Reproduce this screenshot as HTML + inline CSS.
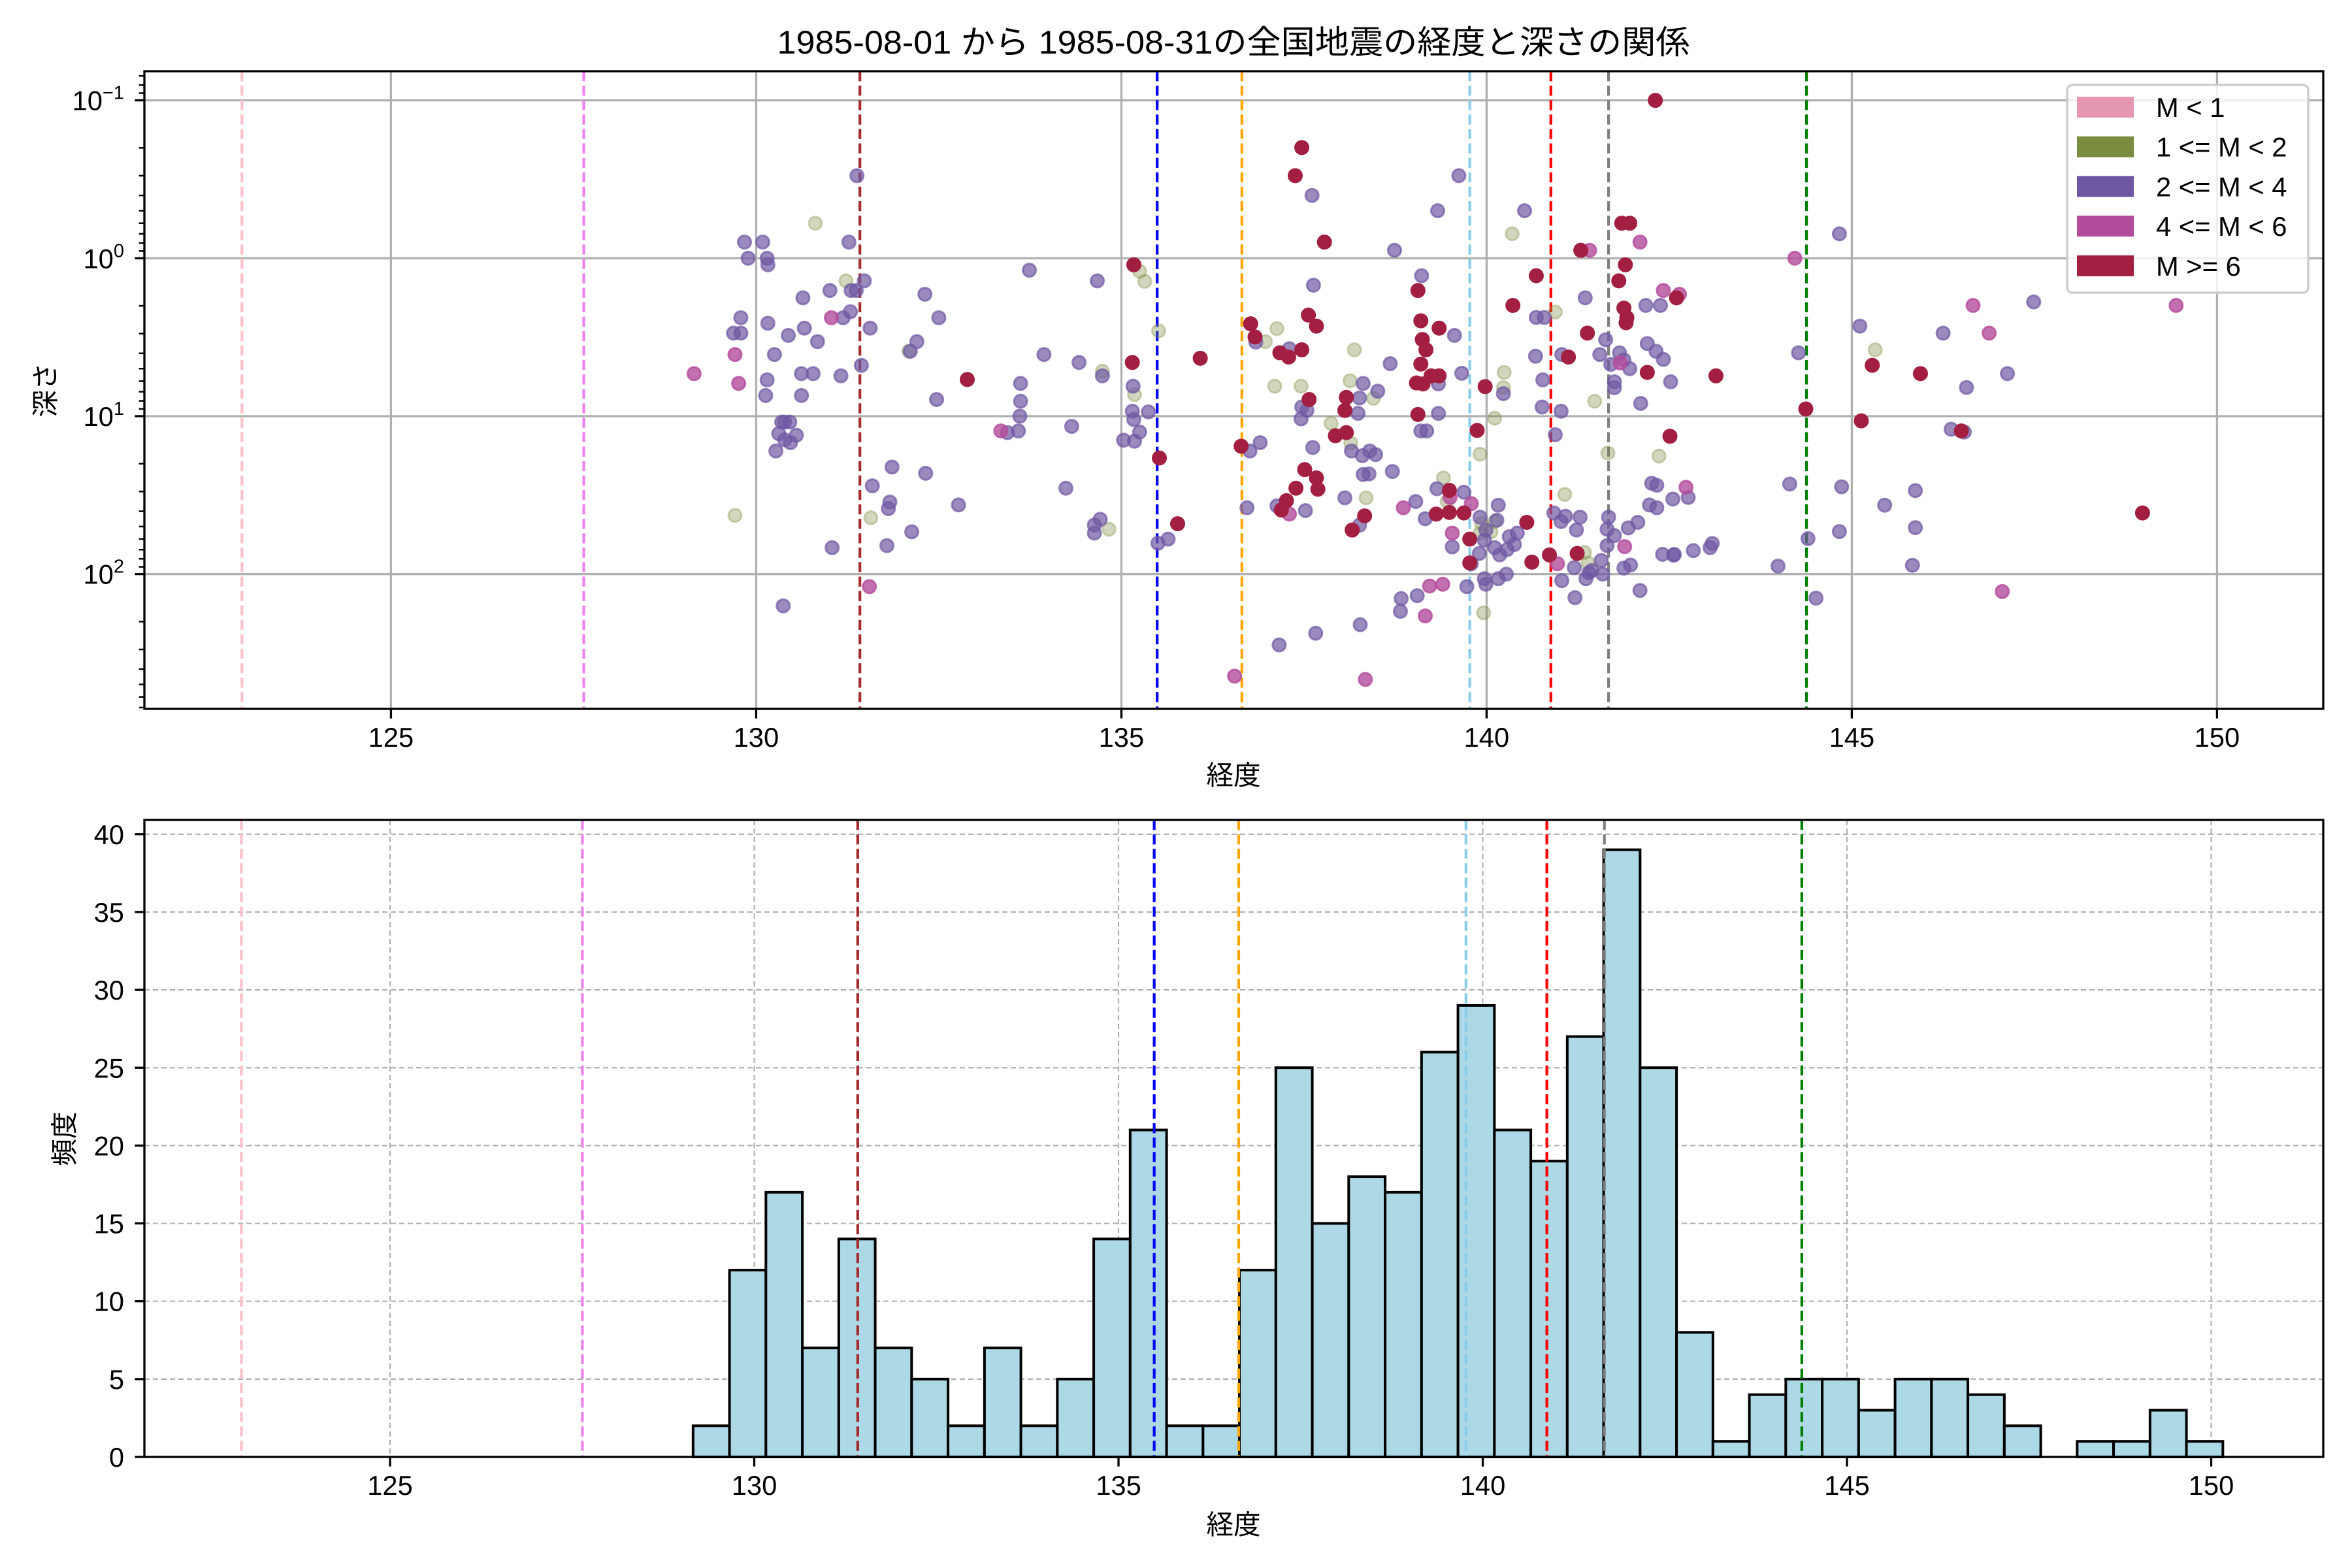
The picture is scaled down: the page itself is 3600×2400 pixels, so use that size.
<!DOCTYPE html>
<html><head><meta charset="utf-8">
<style>
html,body{margin:0;padding:0;background:#fff;}
svg{display:block;}
text{font-family:"Liberation Sans","Noto Sans CJK JP",sans-serif;fill:#000;}
</style></head>
<body>
<svg id="fig" width="3600" height="2400" viewBox="0 0 3600 2400" xmlns="http://www.w3.org/2000/svg">
<rect x="0" y="0" width="3600" height="2400" fill="#fff"/>
<text x="1888" y="82" font-size="50" text-anchor="middle" textLength="1397" lengthAdjust="spacingAndGlyphs">1985-08-01 から 1985-08-31の全国地震の経度と深さの関係</text>
<g id="topPanel"></g>
<g id="botPanel"></g>
</svg>
<script>
// ---- data ----
const scatterLon = [131.38,130.81,129.84,130.09,131.27,129.89,130.15,130.16,131.23,131.48,131.30,131.37,131.01,130.64,129.79,130.16,131.03,131.19,131.29,129.69,129.79,130.44,130.66,130.84,131.56,132.11,132.09,129.71,130.25,131.44,129.15,130.15,130.62,130.78,131.16,129.76,130.13,130.62,130.35,130.46,130.39,130.31,130.55,130.39,130.47,130.27,131.86,131.59,131.83,131.81,129.71,131.57,132.13,131.04,131.79,131.55,130.37,
132.31,132.50,132.20,133.74,134.67,133.94,134.42,134.74,134.74,132.89,133.62,132.47,133.62,133.61,133.35,133.44,133.59,134.32,132.32,132.77,134.24,134.63,134.71,134.63,134.83,135.17,135.25,135.32,135.51,135.15,135.16,135.18,135.15,135.37,135.17,135.25,135.03,135.18,135.52,135.50,135.64,135.77,136.08,136.64,136.55,136.77,136.83,136.84,136.97,137.13,137.17,137.29,137.30,137.47,137.47,137.38,137.61,137.78,137.56,137.67,137.63,137.10,137.46,137.57,137.47,137.54,137.46,138.08,138.06,138.24,138.26,138.13,138.31,138.45,138.51,138.19,137.93,138.08,137.87,138.14,138.15,138.40,138.30,138.48,137.62,136.90,136.76,137.51,137.67,137.69,137.39,138.31,138.39,138.71,137.26,137.19,137.13,136.72,137.30,137.52,138.06,138.35,138.33,138.16,138.26,138.27,137.66,137.16,138.34,138.74,138.68,139.33,139.62,140.35,139.11,139.06,139.10,139.35,139.12,139.17,139.10,139.24,139.04,139.13,139.35,139.34,139.56,139.66,139.34,139.06,139.10,139.18,139.91,139.87,140.11,139.98,140.24,140.23,140.23,140.77,140.76,140.67,140.68,140.79,140.94,140.68,140.36,140.52,141.03,141.12,141.02,140.94,141.07,139.41,139.49,139.32,139.69,139.46,139.03,138.86,139.16,139.31,139.49,139.50,139.79,139.69,139.91,140.16,139.93,140.11,140.14,139.91,139.99,140.06,139.53,139.53,139.77,139.97,140.11,140.18,140.28,140.38,140.42,140.31,139.90,140.55,139.77,139.79,139.97,139.99,140.27,140.16,140.62,139.73,139.96,139.05,138.83,138.82,139.22,139.40,139.16,140.97,140.86,140.92,141.02,141.08,141.28,141.23,141.24,141.34,141.39,141.20,141.36,141.03,141.21,141.44,141.57,141.67,141.65,141.65,141.75,141.66,141.48,141.38,141.63,141.55,141.70,141.75,141.75,141.85,141.96,142.10,141.29,141.41,141.90,141.81,141.35,141.88,141.92,141.91,141.82,141.88,141.83,141.96,142.20,142.32,142.42,142.20,142.52,142.11,142.36,142.51,142.18,142.38,142.60,142.42,142.64,142.26,142.33,142.73,142.55,142.76,142.23,142.33,141.94,142.07,141.89,141.97,141.88,141.59,141.40,142.10,142.41,142.57,142.83,142.31,
144.83,144.22,145.11,145.32,145.28,145.94,146.66,147.49,146.88,146.25,147.13,146.57,144.27,143.14,144.37,145.13,146.36,146.54,146.50,149.44,148.98,144.15,144.86,145.87,145.45,144.83,145.87,144.40,143.99,145.83,144.51,147.06,143.09,143.06,142.56];
const scatterDepth = [0.30,0.60,0.79,0.79,0.79,1.0,1.0,1.1,1.39,1.39,1.6,1.6,1.6,1.78,2.38,2.58,2.38,2.38,2.18,2.98,2.98,3.08,2.77,3.37,2.77,3.88,3.88,4.07,4.07,4.77,5.38,5.89,5.38,5.38,5.55,6.2,7.4,7.4,10.9,10.9,10.9,12.9,13.2,14.1,14.7,16.6,21,27.6,35,38.5,42.5,44,54,68,66,120,159,
1.69,2.38,3.37,1.19,1.39,4.07,4.57,5.19,5.55,5.86,6.2,7.84,8.04,10,12.4,12.7,12.4,11.6,23,36.5,28.6,48.9,45,55,52,1.1,1.21,1.4,2.88,4.57,6.46,7.3,9.3,9.4,10.5,12.6,14.2,14.4,18.4,63.8,60,48,4.3,15.5,443,2.6,3.15,3.39,3.37,2.79,3.97,4.22,3.74,3.8,0.199,0.30,0.40,0.79,2.29,2.69,1.48,6.46,6.46,7.84,8.75,9.2,10.4,7.6,9.2,9.6,7.67,5.97,6.2,7.7,6.95,3.8,13.3,12.7,11.1,14.8,16.6,16.6,17.8,17.5,15.8,14.7,16.6,21.8,24.6,29,28.6,23.4,23.2,22.4,34.3,39.3,37,38,41.7,39.6,32.9,32.9,42.8,52.6,49,209,237,281,465,0.89,4.65,0.50,0.30,0.70,1.29,1.6,2.49,2.77,3.27,3.8,4.68,5.55,6.16,6.25,5.55,6.25,3.08,5.35,9.6,9.75,12.4,12.4,17.4,12.3,10.3,6.5,5.28,6.6,7.2,5.89,8.75,4.17,2.37,2.37,2.19,1.29,1.99,0.50,4.07,4.22,9.3,13.1,31.3,24.6,29.5,28.8,30.3,34.7,34.7,38,44.6,41.7,40.7,32.7,35.8,41,43.6,36.6,47.9,46.5,45.6,55,52.6,54,55,67.3,60,61,68,75.6,70,65,55,58,74,47,85,86,107,116,100,107,84,120,176,137,143,172,119,116,184,86,75.6,41,46.5,43,43.6,52.6,74,73,85,91,107,110,141,95,82,43.6,52,66,57,17.1,8.04,2.98,3.28,4.07,4.7,6.06,6.6,0.60,0.60,0.79,0.89,0.89,1.1,1.39,1.78,2.07,2.38,2.56,3.97,4.4,4.6,5.0,3.47,3.88,4.37,5.28,6.06,8.3,17.9,13.4,1.99,1.99,1.78,1.6,1.69,26.6,27.4,28.2,33.5,32.7,36.5,38,51,47,67,87.7,91.6,100,98,127,75,75,71,0.10,
0.70,1.0,2.69,3.8,4.76,5.38,1.99,1.89,2.98,2.98,5.38,6.58,3.97,5.55,9.0,10.7,12.1,12.6,12.4,1.99,41,26.9,28,29.6,36.6,53.8,50.8,59.6,89,88,142,129,64,68,76];
const scatterClass = "PGPPPPPPGPPPPPPPMPPPPPPPPPGMPPMPPPPMPPPPPPPPPPPPPPGGPPPMP"+
"PPPPPPPGPRPPPPMPPPPPPPPPGRGGGRPGPPPPPPRPPRRRMRRPGGRRPRRRPRRRPGGRPPPRRPPGPGPGRRGGPPPPPPPRRRRPPPRRPPMPPGRRPPPPMPPPPGPRRRRRRRRRRPPPPRPPGRGRGGPPPPPPGRRPPRPPGGRPPGPMPRRMMRPPGGPGPGMPRPPPPPPPPRRPPPPPRPGPPPMMMMRPPPPPRGGPPPPPPPPPPGGRPPPPPRRMRMRRPRRRPPMPPPPRPPGRPPRMMPPMPPPPPPMPPPPPPPPR"+
"PMPGRRMPMPPPPRRRPPRMRPPPPPPPPPPMPPP";
const classNames = ["M < 1","1 <= M < 2","2 <= M < 4","4 <= M < 6","M >= 6"];
const classCodes = ["L","G","P","M","R"];
const binStart = 129.16;
const binWidth = 0.5;
const binCounts = [2,12,17,7,14,7,5,2,7,2,5,14,21,2,2,12,25,15,18,17,26,29,21,19,27,39,25,8,1,4,5,5,3,5,5,4,2,0,1,1,3,1];
const refLines = [122.96,127.64,131.42,135.49,136.65,139.77,140.88,141.67,144.38];
const refColors = ["pink","violet","brown","blue","orange","skyblue","red","gray","green"];
const xTicks = [125,130,135,140,145,150];
const yTicksLog = [-1,0,1,2];
const yTicksCount = [0,5,10,15,20,25,30,35,40];

// ---- styles ----
const classFill = {L:"#e597b2",G:"#7a8c40",P:"#6f58a3",M:"#b44c9c",R:"#a31f41"};
const classAlpha = {L:0.6,G:0.35,P:0.7,M:0.8,R:1};
const NS = "http://www.w3.org/2000/svg";
function mk(parent, tag, attrs){const e=document.createElementNS(NS,tag);for(const k in attrs)e.setAttribute(k,attrs[k]);parent.appendChild(e);return e;}

const T = {l:221,r:3556,t:109,b:1085};
function xTop(lon){return 1157.4+(lon-130)*111.8;}
function yTop(d){return 395.3+241.7*Math.log10(d);}
const B = {l:221,r:3556,t:1255,b:2230};
function xBot(lon){return 1154.5+(lon-130)*111.5;}
function yBot(c){return 2230-c*23.83;}

const topG = document.getElementById('topPanel');
const botG = document.getElementById('botPanel');

xTicks.forEach(v=>{
  const g=mk(topG,'line',{x1:xTop(v),x2:xTop(v),y1:T.t,y2:T.b,stroke:'#b0b0b0','stroke-width':3.3});
  
  
});
yTicksLog.forEach(k=>{
  const g=mk(topG,'line',{x1:T.l,x2:T.r,y1:yTop(Math.pow(10,k)),y2:yTop(Math.pow(10,k)),stroke:'#b0b0b0','stroke-width':3.3});
  
  
});
refLines.forEach((v,i)=>{
  const l=mk(topG,'line',{x1:xTop(v),x2:xTop(v),y1:T.t,y2:T.b,stroke:refColors[i],'stroke-width':4.2,'stroke-dasharray':'15.4 6.7'});
  
  
});
const order=["G","P","M","R"];
order.forEach(code=>{
  for(let i=0;i<scatterLon.length;i++){
    if(scatterClass[i]!==code) continue;
    const c=mk(topG,'circle',{cx:xTop(scatterLon[i]),cy:yTop(scatterDepth[i]),r:10,fill:classFill[code],'fill-opacity':classAlpha[code],stroke:classFill[code],'stroke-opacity':classAlpha[code],'stroke-width':3});
    
    
  }
});
const sp1=mk(topG,'rect',{x:T.l,y:T.t,width:T.r-T.l,height:T.b-T.t,fill:'none',stroke:'#000','stroke-width':3.3});


xTicks.forEach(v=>{
  mk(topG,'line',{x1:xTop(v),x2:xTop(v),y1:T.b,y2:T.b+14.6,stroke:'#000','stroke-width':3.3});
  const t=mk(topG,'text',{x:xTop(v),y:T.b+58,'font-size':41.7,'text-anchor':'middle'});
  t.textContent=v;
  
  
});
yTicksLog.forEach(k=>{
  const y=yTop(Math.pow(10,k));
  mk(topG,'line',{x1:T.l-14.6,x2:T.l,y1:y,y2:y,stroke:'#000','stroke-width':3.3});
  const t=mk(topG,'text',{x:190,y:y+15,'font-size':41.7,'text-anchor':'end'});
  const a=document.createElementNS(NS,'tspan');a.textContent='10';t.appendChild(a);
  const s=document.createElementNS(NS,'tspan');s.setAttribute('dy','-17');s.setAttribute('font-size','29');s.textContent=(k<0?'\u2212'+(-k):String(k));t.appendChild(s);
  
  
});
for(let k=-2;k<=2;k++){
  for(let m=2;m<=9;m++){
    const d=m*Math.pow(10,k);const y=yTop(d);
    if(y<T.t||y>T.b) continue;
    mk(topG,'line',{x1:T.l-8.3,x2:T.l,y1:y,y2:y,stroke:'#000','stroke-width':2.5});
  }
}
const xl1=mk(topG,'text',{x:1888,y:1201,'font-size':41.7,'text-anchor':'middle'});
xl1.textContent='経度';


const yl1=mk(topG,'text',{x:0,y:0,'font-size':41.7,'text-anchor':'middle',transform:'translate(84,597) rotate(-90)'});
yl1.textContent='深さ';



const lg=mk(topG,'g',{});


mk(lg,'rect',{x:3164,y:130,width:369,height:318,rx:8,fill:'#fff','fill-opacity':0.8,stroke:'#cccccc','stroke-width':3.3});
classNames.forEach((n,i)=>{
  const cy=164+i*60.7;
  const r=mk(lg,'rect',{x:3179,y:cy-16,width:87,height:32,fill:classFill[classCodes[i]]});
  
  
  const t=mk(lg,'text',{x:3300,y:cy+15,'font-size':41.7});
  t.textContent=n;
  
  
});

xTicks.forEach(v=>{
  const g=mk(botG,'line',{x1:xBot(v),x2:xBot(v),y1:B.t,y2:B.b,stroke:'#b0b0b0','stroke-width':2.2,'stroke-dasharray':'8 5'});
  
  
});
yTicksCount.forEach(v=>{
  const g=mk(botG,'line',{x1:B.l,x2:B.r,y1:yBot(v),y2:yBot(v),stroke:'#b0b0b0','stroke-width':2.2,'stroke-dasharray':'8 5'});
  
  
});
binCounts.forEach((c,i)=>{
  const x0=xBot(binStart+i*binWidth),x1=xBot(binStart+(i+1)*binWidth);
  const r=mk(botG,'rect',{x:x0,y:yBot(c),width:x1-x0,height:yBot(0)-yBot(c),fill:'#add8e6',stroke:'#000','stroke-width':4});
  
  
});
refLines.forEach((v,i)=>{
  const l=mk(botG,'line',{x1:xBot(v),x2:xBot(v),y1:B.t,y2:B.b,stroke:refColors[i],'stroke-width':4.2,'stroke-dasharray':'15.4 6.7'});
  
  
});
const sp2=mk(botG,'rect',{x:B.l,y:B.t,width:B.r-B.l,height:B.b-B.t,fill:'none',stroke:'#000','stroke-width':3.3});


xTicks.forEach(v=>{
  mk(botG,'line',{x1:xBot(v),x2:xBot(v),y1:B.b,y2:B.b+14.6,stroke:'#000','stroke-width':3.3});
  const t=mk(botG,'text',{x:xBot(v),y:B.b+58,'font-size':41.7,'text-anchor':'middle'});
  t.textContent=v;
  
  
});
yTicksCount.forEach(v=>{
  const y=yBot(v);
  mk(botG,'line',{x1:B.l-14.6,x2:B.l,y1:y,y2:y,stroke:'#000','stroke-width':3.3});
  const t=mk(botG,'text',{x:190,y:y+15,'font-size':41.7,'text-anchor':'end'});
  t.textContent=v;
  
  
});
const xl2=mk(botG,'text',{x:1888,y:2348,'font-size':41.7,'text-anchor':'middle'});
xl2.textContent='経度';


const yl2=mk(botG,'text',{x:0,y:0,'font-size':41.7,'text-anchor':'middle',transform:'translate(113,1743) rotate(-90)'});
yl2.textContent='頻度';


</script>
</body></html>
